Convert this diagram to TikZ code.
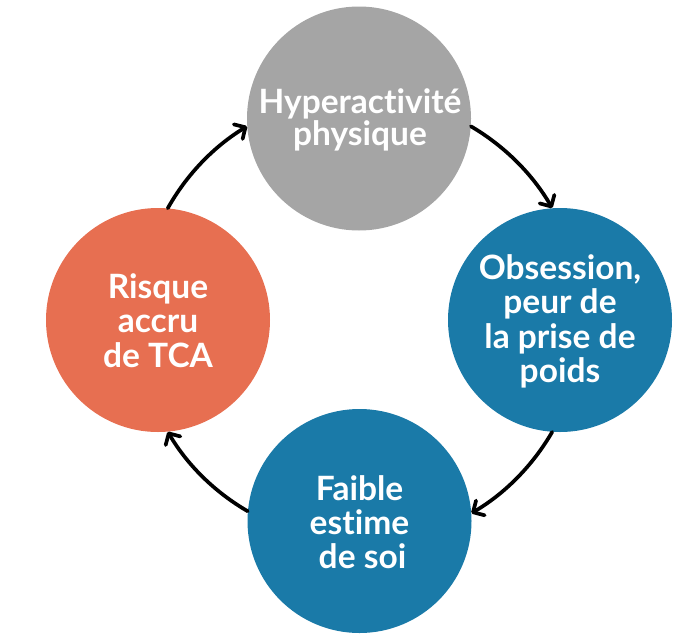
\documentclass[tikz,border=0pt]{standalone}
\usepackage{fontspec}
\setmainfont{Lato}[Ligatures={NoCommon}]
\usetikzlibrary{arrows.meta}
\definecolor{cgray}{HTML}{A5A5A5}
\definecolor{cblue}{HTML}{1A7AA8}
\definecolor{corange}{HTML}{E76F51}
\tikzset{
  bubble/.style={circle, minimum size=224pt, inner sep=0pt, draw=none},
  label/.style={text=white, align=center, font=\bfseries\fontsize{33.5}{34.3}\selectfont, inner sep=0pt},
  arr/.style={line width=3.7pt, line cap=round, line join=round,
    -{Straight Barb[length=8.5pt,width=17pt,round]}, bend left=14.8, looseness=0.866}
}
\begin{document}
\begin{tikzpicture}[x=1pt,y=-1pt]
\useasboundingbox (0,0) rectangle (687,643);
\node[bubble, fill=cgray]   (top)    at (359,118.5) {};
\node[bubble, fill=cblue]   (right)  at (560,320)   {};
\node[bubble, fill=cblue]   (bottom) at (359.5,521) {};
\node[bubble, fill=corange] (left)   at (158,320)   {};
\node[label, font=\bfseries\fontsize{33.5}{32}\selectfont] (tt) at (360,119.5) {Hyperactivité\\physique};
\node[label] (rt) at (560,321.5) {Obsession,\\peur de\\la prise de\\poids};
\node[label] (bt) at (359.5,522) {Faible\\estime\\\hspace{6pt}de soi};
\node[label] (lt) at (158,320.5) {Risque\\accru\\de TCA};
\draw[arr] (top.-4.9) to (right.94.7);
\draw[arr] (right.-94.7) to (bottom.4.7);
\draw[arr] (bottom.175.3) to (left.-85.3);
\draw[arr] (left.85.3) to (top.184.9);
\end{tikzpicture}
\end{document}
